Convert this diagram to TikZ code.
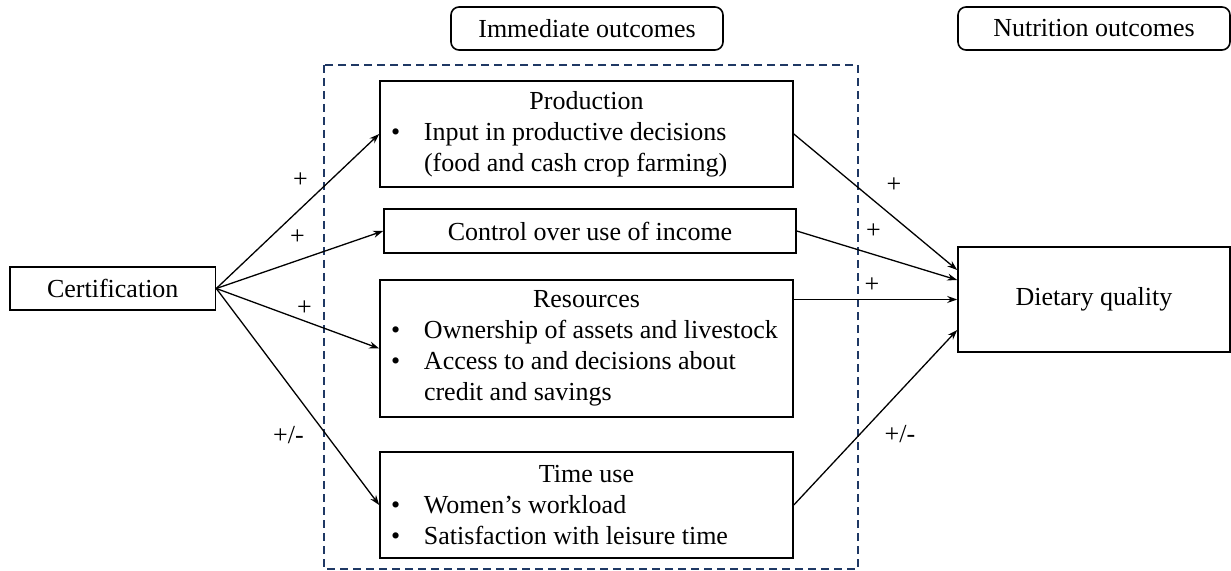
\documentclass[tikz,border=0pt]{standalone}
\usepackage{fontspec}
\setmainfont{Liberation Serif}
\usetikzlibrary{arrows.meta}
\definecolor{navy}{RGB}{31,56,100}
\newcommand{\ttl}[1]{\makebox[195.5pt]{#1}}
\newcommand{\bul}[1]{\makebox[195.5pt][l]{\makebox[16.5pt][l]{\textbullet}#1}}
\newcommand{\cont}[1]{\makebox[195.5pt][l]{\hspace*{16.5pt}#1}}

\begin{document}
\begin{tikzpicture}
		[x=0.5pt, y=-0.5pt,
		every node/.style={font=\fontsize{13}{15.5}\selectfont},
		box/.style={draw, line width=0.8pt, inner sep=0pt},
		listbox/.style={box, inner xsep=5.5pt, align=left},
		hdr/.style={box, rounded corners=4pt, minimum width=136pt, minimum height=21.5pt},
		arr/.style={line width=0.65pt, -{Stealth[length=5pt,width=3.5pt]}},
		sign/.style={inner sep=1pt}]
		\useasboundingbox (0,0) rectangle (1231,571);
		% dashed frame round the immediate outcomes
		\draw[navy, line width=0.6pt, dash pattern=on 4pt off 2.5pt] (324,65) rectangle (858,569);
		\node[hdr] (imm) at (587,28.5) {Immediate outcomes};
		\node[hdr] (nut) at (1094,28.5) {Nutrition outcomes};
		\node[box, minimum width=102.75pt, minimum height=21.5pt] (cert) at (112.75,288.5) {Certification};
		\node[listbox, minimum height=53pt] (prod) at (586.5,134)
			{\ttl{Production}\\
			\bul{Input in productive decisions}\\
			\cont{(food and cash crop farming)}};
		\node[box, minimum width=206pt, minimum height=22pt] (ctrl) at (590,231) {Control over use of income};
		\node[listbox, minimum height=68.5pt] (res) at (586.5,348.5)
			{\ttl{Resources}\\
			\bul{Ownership of assets and livestock}\\
			\bul{Access to and decisions about}\\
			\cont{credit and savings}};
		\node[listbox, minimum height=53pt] (time) at (586.5,505)
			{\ttl{Time use}\\
			\bul{Women’s workload}\\
			\bul{Satisfaction with leisure time}};
		\node[box, minimum width=136pt, minimum height=52.5pt] (diet) at (1094,299.5) {Dietary quality};
		% arrows out of certification
		\draw[arr] (cert.east) -- (prod.west);
		\draw[arr] (cert.east) -- (ctrl.west);
		\draw[arr] (cert.east) -- (res.west);
		\draw[arr] (cert.east) -- (time.west);
		% arrows into dietary quality
		\draw[arr] (prod.east) -- ([yshift=14.75pt]diet.west);
		\draw[arr] (ctrl.east) -- ([yshift=9.75pt]diet.west);
		\draw[arr] (res.east |- diet.west) -- (diet.west);
		\draw[arr] (time.east) -- ([yshift=-15.25pt]diet.west);
		% signs
		\node[sign] (s1) at (300.5,180) {+};
		\node[sign] (s2) at (297.5,237) {+};
		\node[sign] (s3) at (304.5,308) {+};
		\node[sign] (s4) at (288.5,435) {+/-};
		\node[sign] (t1) at (894,185) {+};
		\node[sign] (t2) at (873.5,231) {+};
		\node[sign] (t3) at (872,285) {+};
		\node[sign] (t4) at (900,434) {+/-};
	\end{tikzpicture}
\end{document}
